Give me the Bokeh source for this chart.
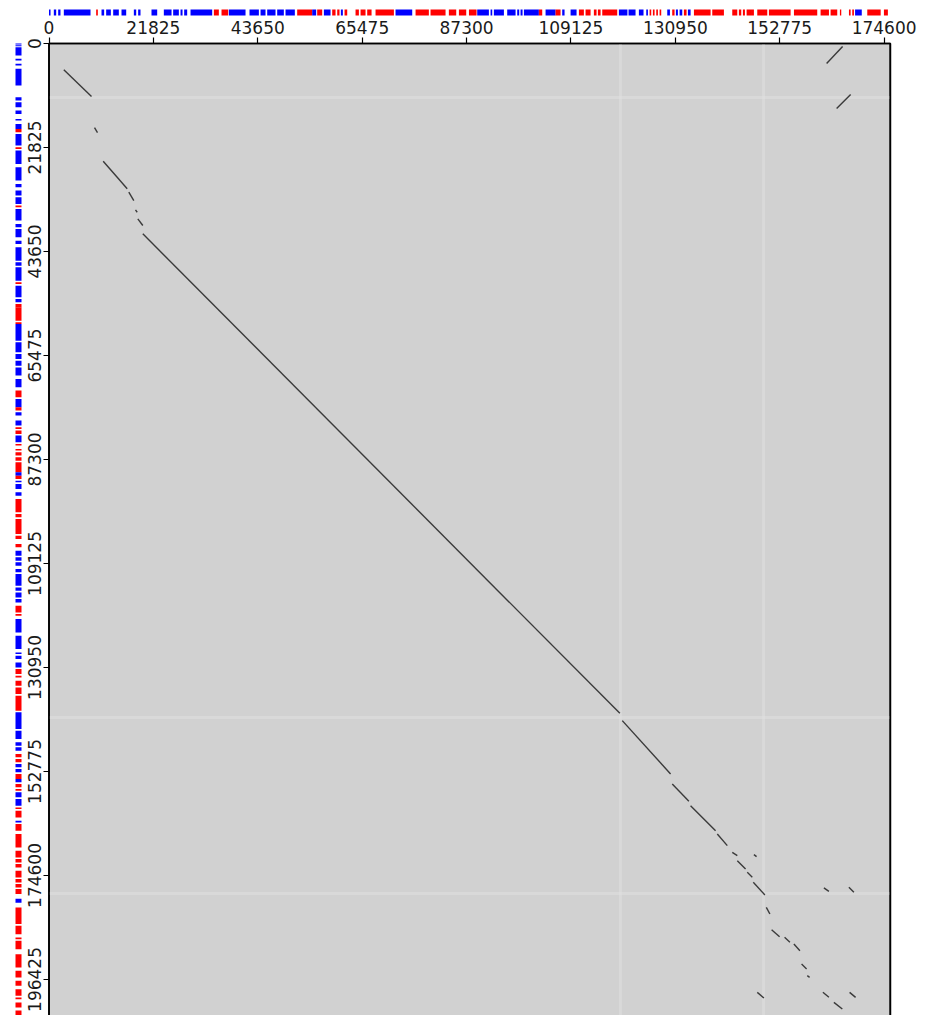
from bokeh.plotting import figure
from bokeh.models import Range1d, LinearAxis, FixedTicker, BasicTickFormatter, ColumnDataSource
from bokeh.embed import file_html
from bokeh.resources import INLINE

# ---------------- data ----------------
SEQ_X_LEN = 175900          # horizontal sequence length (bp)
SEQ_Y_LEN = 205000          # vertical sequence length (bp), runs past the window

x_ticks = [0, 21825, 43650, 65475, 87300, 109125, 130950, 152775, 174600]
y_ticks = [0, 21825, 43650, 65475, 87300, 109125, 130950, 152775, 174600, 196425]

# genes on horizontal sequence (start, end, strand)
top_start = [0, 1010, 1920, 3100, 9860, 10980, 11950, 13420, 15160, 17740, 18640, 21430, 24010, 25960,
             27500, 28260, 29590, 34470, 36070, 37600, 41920, 44230, 45620, 47710, 49450, 51890, 55030,
             56070, 57470, 59210, 60260, 61020, 61790, 64090, 65140, 66530, 68270, 72450, 76640, 79770,
             83600, 85700, 87800, 89530, 92320, 93010, 95800, 97890, 98590, 99290, 102420, 103820,
             105910, 107300, 109050, 110790, 112180, 113920, 114760, 115670, 119150, 121170, 123330,
             124870, 125570, 126260, 126960, 127660, 129260, 130300, 131070, 131840, 132740, 133580,
             134840, 138670, 142850, 144240, 145080, 145850, 148080, 150520, 155750, 161320, 163410,
             165360, 167250, 167940, 168530, 171080, 174560]
top_end = [320, 1500, 2400, 8680, 10210, 11530, 12930, 14600, 16140, 18230, 19130, 22620, 25620, 27150,
           27920, 28890, 34120, 35510, 37460, 41090, 43880, 45270, 47360, 49100, 51400, 55030, 55860,
           57120, 58860, 59910, 60740, 61440, 62350, 64790, 66180, 67440, 72110, 75940, 79420, 82910,
           85140, 87230, 89390, 91970, 92670, 95110, 97550, 98310, 99010, 102420, 103120, 105910,
           106950, 107790, 110300, 111830, 113230, 114480, 115320, 118800, 120930, 122630, 124300,
           125220, 125910, 126610, 127310, 128000, 129820, 130790, 131490, 132400, 133300, 134140,
           138320, 141110, 143900, 144730, 145500, 147380, 150170, 155050, 160620, 163070, 164800,
           165640, 167600, 168290, 169930, 173880, 175390]
top_strand = ['+', '+', '+', '+', '-', '+', '+', '+', '+', '+', '+', '+', '+', '+',
              '+', '+', '+', '-', '-', '+', '+', '+', '+', '+', '+', '-', '+',
              '-', '+', '-', '-', '+', '-', '-', '-', '-', '-', '+', '-', '-',
              '-', '-', '-', '+', '+', '+', '+', '+', '+', '+', '-', '+',
              '-', '+', '+', '-', '-', '-', '-', '-', '+', '+', '+',
              '+', '-', '-', '-', '-', '+', '-', '+', '+', '-', '+',
              '-', '-', '-', '-', '-', '-', '-', '-', '-', '-', '-',
              '-', '-', '-', '+', '-', '-']

# genes on vertical sequence (start, end, strand)
left_start = [0, 350, 770, 3220, 4270, 5320, 11270, 12320, 14070, 15820, 16870, 17920, 18970, 21770,
              22470, 25970, 29470, 30870, 32270, 34020, 34720, 37870, 38920, 41370, 42770, 45920,
              46970, 50120, 50820, 53620, 54670, 55370, 58520, 58870, 62720, 65170, 66570, 67970,
              70390, 72840, 74590, 76340, 77390, 79140, 80540, 81240, 82290, 84040, 85090, 85790,
              86840, 87890, 89990, 90690, 91740, 92440, 94190, 95590, 98740, 99790, 103290, 105040,
              106440, 107840, 108890, 110290, 111340, 114140, 115190, 116590, 117990, 119740, 120790,
              124290, 127790, 128490, 129890, 131290, 132690, 133740, 135140, 136860, 140360, 144210,
              146660, 147710, 149110, 150160, 151210, 152260, 153310, 154360, 155410, 156460, 157160,
              158560, 160310, 161010, 163110, 163810, 165910, 169410, 171160, 172210, 173610, 175360,
              176410, 177460, 179460, 181310, 185160, 187610, 188310, 191110, 194610, 196710, 198460,
              200210, 201260, 202960]
left_end = [200, 600, 2520, 3570, 4620, 8820, 11970, 13370, 14770, 16170, 17920, 18620, 21420, 22120,
            25270, 28770, 30170, 31920, 33670, 34370, 37170, 38570, 40670, 42070, 45570, 46620,
            49770, 50470, 53270, 54320, 55370, 58170, 58870, 62370, 64820, 66220, 67620, 69690,
            72140, 74240, 76340, 77040, 78090, 80190, 80890, 81940, 83690, 84390, 85440, 86490,
            87540, 89990, 90690, 91390, 92090, 93490, 94890, 98390, 99440, 102940, 103990, 105740,
            107490, 108540, 109590, 110990, 113790, 114840, 116240, 117290, 119390, 120090, 123590,
            127090, 128140, 129190, 130940, 132340, 133040, 134790, 136510, 140010, 143860, 145960,
            147360, 148410, 149810, 150860, 151910, 152960, 154360, 155060, 156110, 156810, 158210,
            159960, 160660, 162410, 163460, 165210, 168710, 170810, 171860, 172910, 175010, 176060,
            177110, 178510, 180300, 184810, 186910, 187960, 190060, 193910, 196010, 197760, 199860,
            200560, 202310, 204060]
left_strand = ['+', '+', '+', '+', '+', '+', '+', '+', '+', '+', '+', '-', '+', '-',
               '+', '+', '+', '+', '+', '-', '+', '+', '+', '+', '+', '+',
               '+', '-', '+', '+', '-', '-', '-', '+', '+', '+', '+', '+',
               '+', '-', '+', '-', '+', '+', '-', '-', '+', '-', '-', '-',
               '-', '-', '+', '-', '+', '+', '+', '-', '-', '-', '-', '-',
               '+', '+', '+', '+', '+', '+', '+', '+', '-', '-', '+',
               '+', '+', '+', '+', '-', '-', '-', '-', '-', '+', '+',
               '+', '+', '-', '-', '+', '+', '-', '+', '-', '-', '+',
               '+', '-', '-', '+', '-', '-', '-', '-', '-', '-', '-',
               '-', '-', '+', '-', '-', '-', '-', '-', '-', '-', '-',
               '-', '-', '-']

# matching segments (x0, y0) -> (x1, y1)
match_x0 = [3095, 9514, 11333, 16686, 18087, 18568, 19614, 119856, 130311, 134139, 139723, 142857,
            143903, 145993, 147249, 149967, 151075, 153794, 155739, 157348, 158539, 161801, 164102,
            147374, 162011, 167239, 167385, 148085, 162577, 164668]
match_y0 = [5520, 17632, 24705, 31213, 34907, 36796, 39944, 142102, 155390, 159944, 165884, 169746,
            171488, 173941, 176042, 181302, 185972, 187588, 188973, 193170, 195627, 199090, 201235,
            170228, 177219, 177093, 199132, 199132, 4198, 13644]
match_x1 = [8887, 10141, 16352, 17732, 18443, 19614, 119354, 129955, 133782, 139367, 141814, 143903,
            145639, 147039, 149674, 150720, 152748, 154902, 156993, 158393, 159021, 163056, 165858,
            147939, 163056, 168285, 168640, 149465, 165923, 167595]
match_y1 = [11125, 18681, 30499, 32954, 35411, 38202, 140570, 153290, 159042, 165192, 168340, 170439,
            173230, 174990, 178687, 182688, 187441, 188637, 190380, 194219, 195984, 200140, 202620,
            170648, 177933, 178143, 200182, 200307, 630, 10705]

# low-complexity (lighter) bands
band_x = [119470, 149400]
band_y = [11335, 141470, 178400]

# ---------------- layout constants (screen mapping) ----------------
PX_X = 0.004783   # px per bp horizontally
PX_Y = 0.004765   # px per bp vertically
FIG_W, FIG_H = 917, 1015
ORIGIN_X, ORIGIN_Y = 48.5, 43.0  # data origin in figure pixels

x_view = (-ORIGIN_X / PX_X, (FIG_W - ORIGIN_X) / PX_X)
y_view = ((FIG_H - ORIGIN_Y) / PX_Y, -ORIGIN_Y / PX_Y)

TOP_STRIP = (-34.0 / PX_Y, -28.0 / PX_Y)     # y extents of top gene strip
LEFT_STRIP = (-33.5 / PX_X, -27.5 / PX_X)    # x extents of left gene strip

STRAND_COLOR = {'+': '#0000ff', '-': '#ff0000'}

p = figure(width=FIG_W, height=FIG_H, output_backend="svg", toolbar_location=None,
           x_range=Range1d(*x_view), y_range=Range1d(*y_view),
           x_axis_type=None, y_axis_type=None, min_border=0,
           outline_line_color=None, background_fill_color="white", border_fill_color="white")

# dot-plot panel
p.quad(left=[0], right=[SEQ_X_LEN], top=[0], bottom=[SEQ_Y_LEN],
       fill_color="#d1d1d1", line_color="black", line_width=1.6)

bw_x = 3.0 / PX_X
bw_y = 3.0 / PX_Y
p.quad(left=[b - bw_x / 2 for b in band_x], right=[b + bw_x / 2 for b in band_x],
       top=[0] * len(band_x), bottom=[SEQ_Y_LEN] * len(band_x),
       fill_color="#e2e2e2", fill_alpha=0.45, line_color=None)
p.quad(left=[0] * len(band_y), right=[SEQ_X_LEN] * len(band_y),
       top=[b - bw_y / 2 for b in band_y], bottom=[b + bw_y / 2 for b in band_y],
       fill_color="#e2e2e2", fill_alpha=0.45, line_color=None)

p.segment(x0=match_x0, y0=match_y0, x1=match_x1, y1=match_y1,
          line_color="#3a3a3a", line_width=1.4)

# re-draw panel border on top
p.quad(left=[0], right=[SEQ_X_LEN], top=[0], bottom=[SEQ_Y_LEN],
       fill_color=None, line_color="black", line_width=1.6)

top_src = ColumnDataSource(dict(left=top_start, right=top_end,
                                color=[STRAND_COLOR[s] for s in top_strand]))
p.quad(left="left", right="right", top=TOP_STRIP[0], bottom=TOP_STRIP[1],
       fill_color="color", line_color=None, source=top_src)

left_src = ColumnDataSource(dict(top=left_start, bottom=left_end,
                                 color=[STRAND_COLOR[s] for s in left_strand]))
p.quad(left=LEFT_STRIP[0], right=LEFT_STRIP[1], top="top", bottom="bottom",
       fill_color="color", line_color=None, source=left_src)

fmt = BasicTickFormatter(use_scientific=False)
common = dict(axis_line_color=None, major_tick_out=6, major_tick_in=0,
              major_tick_line_color="black", major_tick_line_width=1.2,
              minor_tick_line_color=None, major_label_text_font="DejaVu Sans",
              major_label_text_font_size="17px", major_label_text_color="#1a1a1a")

xaxis = LinearAxis(fixed_location=0, ticker=FixedTicker(ticks=x_ticks), formatter=fmt,
                   major_label_standoff=4, **common)
p.add_layout(xaxis, "above")

yaxis = LinearAxis(fixed_location=0, ticker=FixedTicker(ticks=y_ticks), formatter=fmt,
                   major_label_orientation="vertical", major_label_standoff=2, **common)
p.add_layout(yaxis, "left")

open("out.html", "w").write(file_html(p, INLINE))
